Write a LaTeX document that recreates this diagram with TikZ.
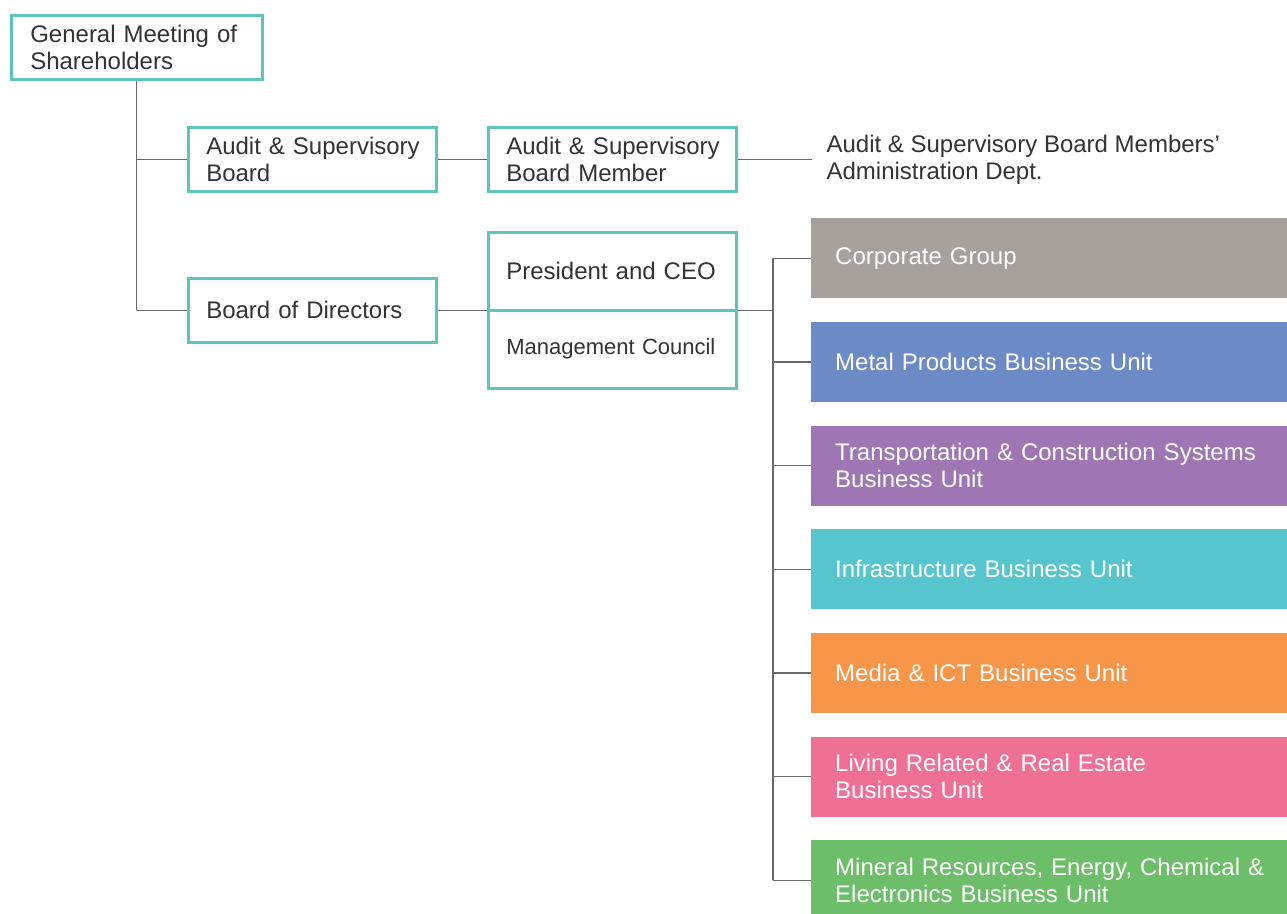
\documentclass[tikz,border=0pt]{standalone}
\usepackage{fontspec}
\setmainfont{Liberation Sans}
\usetikzlibrary{positioning}
\definecolor{cteal}{RGB}{94,196,190}
\definecolor{ctext}{RGB}{51,51,51}
\definecolor{cline}{RGB}{105,105,105}
\definecolor{cgray}{RGB}{167,161,158}
\definecolor{cblue}{RGB}{108,138,198}
\definecolor{cpurple}{RGB}{158,118,180}
\definecolor{ccyan}{RGB}{86,197,206}
\definecolor{corange}{RGB}{247,149,72}
\definecolor{cpink}{RGB}{240,112,148}
\definecolor{cgreen}{RGB}{108,191,104}

\begin{document}
\begin{tikzpicture}[
  x=1pt, y=1pt,
  font=\fontsize{24}{27}\selectfont,
  box/.style={draw=cteal, line width=2.6pt, fill=white, text=ctext, align=left, inner xsep=18pt, inner ysep=0pt, text width=212pt, minimum height=64pt},
  unit/.style={fill=#1, text=white, align=left, inner xsep=24pt, inner ysep=0pt, text width=460pt, minimum height=80pt},
  link/.style={draw=cline, line width=1.2pt},
]
\useasboundingbox (0,0) rectangle (1287,-913);

% ---- shareholders and audit line ----
\node[box, anchor=north west, text width=213pt, inner xsep=19pt] (gms) at (10,-14) {General Meeting of\\Shareholders};
\node[box, anchor=north west] (asb) at (187,-126) {\mbox{Audit \& Supervisory}\\Board};
\node[box, right=49.4pt of asb] (asbm) {\mbox{Audit \& Supervisory}\\Board Member};
\node[right=74pt of asbm, inner xsep=0pt, outer xsep=15pt, align=left, text=ctext] (admin) {Audit \& Supervisory Board Members'\\Administration Dept.};

% ---- board and executive ----
\node[box, anchor=north west] (bod) at (187,-277) {Board of Directors};
\node[box, minimum height=78pt, anchor=north west] (ceo) at (487,-231) {President and CEO};
\node[box, minimum height=78pt, below=-2.6pt of ceo, font=\fontsize{22}{26}\selectfont] (mc) {Management Council};

% ---- business units ----
\node[unit=cgray, anchor=north west] (corp) at (811,-218) {Corporate Group};
\node[unit=cblue, below=23.3pt of corp] (metal) {Metal Products Business Unit};
\node[unit=cpurple, below=23.3pt of metal] (trans) {Transportation \& Construction Systems\\Business Unit};
\node[unit=ccyan, below=23.3pt of trans] (infra) {Infrastructure Business Unit};
\node[unit=corange, below=23.3pt of infra] (media) {Media \& ICT Business Unit};
\node[unit=cpink, below=23.3pt of media] (living) {Living Related \& Real Estate\\Business Unit};
\node[unit=cgreen, below=23.3pt of living] (mineral) {Mineral Resources, Energy, Chemical \&\\Electronics Business Unit};
\path (bod.east -| corp.west) ++(-38,0) coordinate (hub);

% ---- connectors ----
\draw[link] (gms.south) -- (gms.south |- bod.west);
\draw[link] (gms.south |- asb.west) -- (asb.west);
\draw[link] (gms.south |- bod.west) -- (bod.west);
\draw[link] (asb) -- (asbm);
\draw[link] (asbm) -- (admin);
\draw[link] (bod.east) -- (bod.east -| ceo.west);
\draw[link] (bod.east -| ceo.east) -- (hub);
\draw[link] (hub |- corp.west) -- (hub |- mineral.west);
\foreach \u in {corp,metal,trans,infra,media,living,mineral}
  \draw[link] (hub |- \u.west) -- (\u.west);
\end{tikzpicture}
\end{document}
